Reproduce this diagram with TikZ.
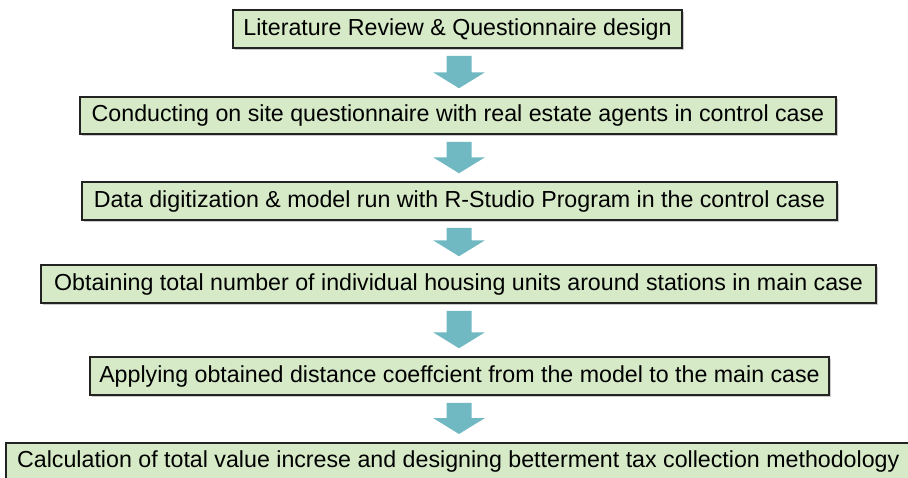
\documentclass[tikz,border=0pt]{standalone}
\usepackage{fontspec}
\setmainfont{Liberation Sans}
\usetikzlibrary{calc,shadows}
\definecolor{boxfill}{RGB}{214,234,199}
\definecolor{arrowfill}{RGB}{112,185,194}
\definecolor{boxline}{RGB}{35,35,35}
% block arrow pointing down from one step box to the next
\newcommand\flowarrow[2]{%
  \fill[arrowfill]
    ($(#1.south -| ax)+(-12.5,7)$) -- ($(#1.south -| ax)+(12.5,7)$)
    -- ($(#2.north -| ax)+(12.5,-24)$) -- ($(#2.north -| ax)+(26,-24)$)
    -- ($(#2.north -| ax)+(0,-8)$)
    -- ($(#2.north -| ax)+(-26,-24)$) -- ($(#2.north -| ax)+(-12.5,-24)$)
    -- cycle;}
\begin{document}
\begin{tikzpicture}[x=1pt,y=-1pt,
  stepbox/.style={draw=boxline, line width=1.5pt, fill=boxfill, inner sep=0pt,
    font=\fontsize{23.2}{27}\selectfont,
    drop shadow={shadow xshift=1.6pt, shadow yshift=-1.6pt, fill=black!35, opacity=0.6}}]
\useasboundingbox (0,0) rectangle (908,477);
\clip (0,0) rectangle (908,477);
\coordinate (ax) at (459,0);

\node[stepbox, minimum width=449pt, minimum height=38pt] (b1) at (457.5,29)
  {Literature Review \& Questionnaire design};
\node[stepbox, minimum width=756pt, minimum height=37pt] (b2) at (458,115.5)
  {Conducting on site questionnaire with real estate agents in control case};
\node[stepbox, minimum width=755pt, minimum height=38pt] (b3) at (459.5,201)
  {Data digitization \& model run with R-Studio Program in the control case};
\node[stepbox, minimum width=835pt, minimum height=38pt] (b4) at (458.5,284)
  {Obtaining total number of individual housing units around stations in main case};
\node[stepbox, minimum width=739pt, minimum height=38pt] (b5) at (459.5,376)
  {Applying obtained distance coeffcient from the model to the main case};
\node[stepbox, minimum width=905pt, minimum height=38pt, anchor=north west] (b6) at (5,442)
  {Calculation of total value increse and designing betterment tax collection methodology};

\flowarrow{b1}{b2}
\flowarrow{b2}{b3}
\flowarrow{b3}{b4}
\flowarrow{b4}{b5}
\flowarrow{b5}{b6}
\end{tikzpicture}
\end{document}
